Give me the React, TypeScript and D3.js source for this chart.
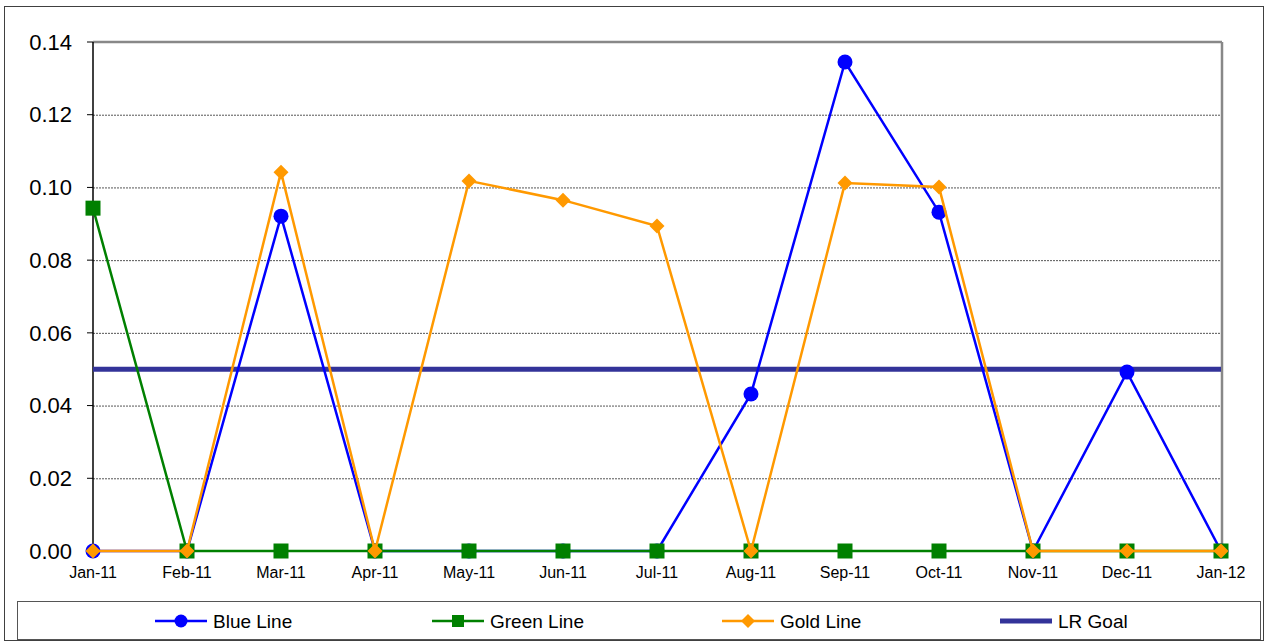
import React from "react";
import * as d3 from "d3";

const categories = ["Jan-11","Feb-11","Mar-11","Apr-11","May-11","Jun-11","Jul-11","Aug-11","Sep-11","Oct-11","Nov-11","Dec-11","Jan-12"];
const blueValues = [0, 0, 0.0921, 0, 0, 0, 0, 0.0432, 0.1345, 0.0932, 0, 0.0492, 0];
const greenValues = [0.0943, 0, 0, 0, 0, 0, 0, 0, 0, 0, 0, 0, 0];
const goldValues = [0, 0, 0.1042, 0, 0.1018, 0.0965, 0.0894, 0, 0.1012, 0.1001, 0, 0, 0];
const goalValue = 0.05;
const yTicks = [0, 0.02, 0.04, 0.06, 0.08, 0.10, 0.12, 0.14];
const legendLabels = ["Blue Line", "Green Line", "Gold Line", "LR Goal"];

const W = 1265, H = 643;
const left = 93, right = 1221, top = 42, bottom = 551;
const BLUE = "#0000FF", GREEN = "#008000", GOLD = "#FF9900", GOAL = "#333399";
const FONT = "'Liberation Sans', Arial, sans-serif";

export default function App() {
  const x = d3.scalePoint<string>().domain(categories).range([left, right]);
  const y = d3.scaleLinear().domain([0, 0.14]).range([bottom, top]);
  const line = d3.line<number>().x((_, i) => x(categories[i])!).y(d => y(d));

  const diamond = (cx: number, cy: number, r: number) => `M${cx},${cy - r}L${cx + r},${cy}L${cx},${cy + r}L${cx - r},${cy}Z`;

  const legendItems = [
    { label: legendLabels[0], x0: 155, color: BLUE, kind: "circle" },
    { label: legendLabels[1], x0: 432, color: GREEN, kind: "square" },
    { label: legendLabels[2], x0: 722, color: GOLD, kind: "diamond" },
    { label: legendLabels[3], x0: 1000, color: GOAL, kind: "goal" },
  ];

  return (
    <svg width={W} height={H} style={{ position: "absolute", left: 0, top: 0, background: "#fff" }} fontFamily={FONT}>
      <rect x={4.5} y={6.5} width={1259} height={634} fill="#fff" stroke="#404040" strokeWidth={1} />
      {/* gridlines */}
      {yTicks.filter(t => t > 0 && t < 0.14).map(t => (
        <line key={t} x1={left} x2={right} y1={y(t) + 0.5} y2={y(t) + 0.5} stroke="#555" strokeWidth={1} strokeDasharray="2,1" />
      ))}
      {/* top & right border */}
      <line x1={left} x2={right + 1} y1={top} y2={top} stroke="#888" strokeWidth={2.5} />
      <line x1={right + 1} x2={right + 1} y1={top} y2={bottom} stroke="#888" strokeWidth={2.5} />
      {/* left axis */}
      <line x1={left} x2={left} y1={top} y2={bottom} stroke="#000" strokeWidth={1.5} />
      {yTicks.map(t => (
        <g key={t}>
          <line x1={left - 6} x2={left} y1={y(t)} y2={y(t)} stroke="#000" strokeWidth={1} />
          <text x={72} y={y(t)} dy="0.35em" textAnchor="end" fontSize={22} fill="#000">{t.toFixed(2)}</text>
        </g>
      ))}
      {/* bottom axis */}
      <line x1={left} x2={right} y1={bottom} y2={bottom} stroke="#000" strokeWidth={1} />
      {categories.map(c => (
        <text key={c} x={x(c)} y={578} textAnchor="middle" fontSize={16} fill="#000">{c}</text>
      ))}
      {/* goal */}
      <line x1={left} x2={right} y1={y(goalValue)} y2={y(goalValue)} stroke={GOAL} strokeWidth={5} />
      {/* blue */}
      <path d={line(blueValues)!} fill="none" stroke={BLUE} strokeWidth={2.5} />
      {blueValues.map((v, i) => (
        <circle key={i} cx={x(categories[i])} cy={y(v)} r={7.5} fill={BLUE} />
      ))}
      {/* green */}
      <path d={line(greenValues)!} fill="none" stroke={GREEN} strokeWidth={2.5} />
      {greenValues.map((v, i) => (
        <rect key={i} x={x(categories[i])! - 7.5} y={y(v) - 7.5} width={15} height={15} fill={GREEN} />
      ))}
      {/* gold */}
      <path d={line(goldValues)!} fill="none" stroke={GOLD} strokeWidth={2.5} />
      {goldValues.map((v, i) => (
        <path key={i} d={diamond(x(categories[i])!, y(v), 7.5)} fill={GOLD} />
      ))}
      {/* legend */}
      <rect x={17.5} y={601.5} width={1243} height={38} fill="#fff" stroke="#555" strokeWidth={1} />
      {legendItems.map(it => {
        const cy = 621;
        const cx = it.x0 + 26;
        return (
          <g key={it.label}>
            <line x1={it.x0} x2={it.x0 + 52} y1={cy} y2={cy} stroke={it.color} strokeWidth={it.kind === "goal" ? 5 : 2.5} />
            {it.kind === "circle" && <circle cx={cx} cy={cy} r={6.5} fill={it.color} />}
            {it.kind === "square" && <rect x={cx - 6} y={cy - 6} width={12} height={12} fill={it.color} />}
            {it.kind === "diamond" && <path d={diamond(cx, cy, 7)} fill={it.color} />}
            <text x={it.x0 + 58} y={cy} dy="0.35em" fontSize={19} fill="#000">{it.label}</text>
          </g>
        );
      })}
    </svg>
  );
}
